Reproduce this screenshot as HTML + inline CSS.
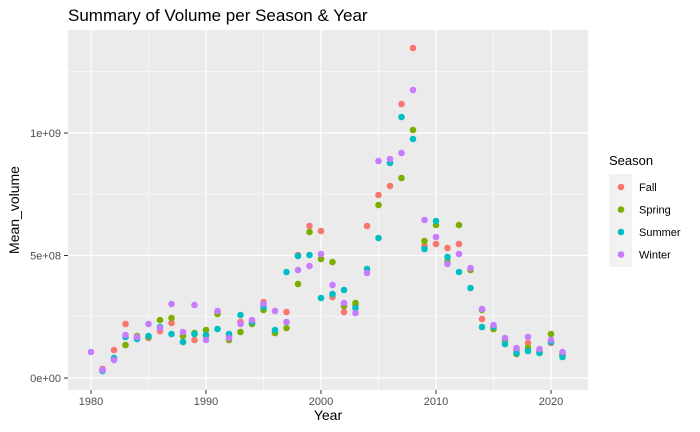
<!DOCTYPE html>
<html><head><style>body{margin:0;background:#fff}svg{display:block;font-family:"Liberation Sans",sans-serif}</style></head><body>
<svg width="700" height="432" xmlns="http://www.w3.org/2000/svg">
<rect width="700" height="432" fill="#fff"/>
<text x="68" y="21" font-size="17" fill="#000">Summary of Volume per Season &amp; Year</text>
<rect x="68" y="30" width="520" height="360" fill="#EBEBEB"/>
<g stroke="#fff" stroke-width="0.6">
<line x1="68" x2="588" y1="316.5" y2="316.5"/><line x1="68" x2="588" y1="194" y2="194"/><line x1="68" x2="588" y1="71.5" y2="71.5"/>
<line y1="30" y2="390" x1="148.5" x2="148.5"/><line y1="30" y2="390" x1="263.5" x2="263.5"/><line y1="30" y2="390" x1="378.5" x2="378.5"/><line y1="30" y2="390" x1="493.5" x2="493.5"/>
</g>
<g stroke="#fff" stroke-width="1.2">
<line x1="68" x2="588" y1="378" y2="378"/><line x1="68" x2="588" y1="255.5" y2="255.5"/><line x1="68" x2="588" y1="133" y2="133"/>
<line y1="30" y2="390" x1="91" x2="91"/><line y1="30" y2="390" x1="206" x2="206"/><line y1="30" y2="390" x1="321" x2="321"/><line y1="30" y2="390" x1="436" x2="436"/><line y1="30" y2="390" x1="551" x2="551"/>
</g>
<g stroke="#333" stroke-width="1">
<line x1="64" x2="68" y1="378" y2="378"/><line x1="64" x2="68" y1="255.5" y2="255.5"/><line x1="64" x2="68" y1="133" y2="133"/>
<line y1="390" y2="394" x1="91" x2="91"/><line y1="390" y2="394" x1="206" x2="206"/><line y1="390" y2="394" x1="321" x2="321"/><line y1="390" y2="394" x1="436" x2="436"/><line y1="390" y2="394" x1="551" x2="551"/>
</g>
<g font-size="11" fill="#4D4D4D" text-anchor="end">
<text x="61" y="382">0e+00</text><text x="61" y="259.5">5e+08</text><text x="61" y="137">1e+09</text>
</g>
<g font-size="11" fill="#4D4D4D" text-anchor="middle">
<text x="91" y="405">1980</text><text x="206" y="405">1990</text><text x="321" y="405">2000</text><text x="436" y="405">2010</text><text x="551" y="405">2020</text>
</g>
<text x="328" y="420" font-size="14" text-anchor="middle">Year</text>
<text transform="translate(19,210) rotate(-90)" font-size="14" text-anchor="middle">Mean_volume</text>
<g id="pts"></g>
<text x="609" y="165" font-size="13">Season</text>
<rect x="609" y="174" width="23" height="93" fill="#F2F2F2"/>
<circle cx="621" cy="187" r="3.3" fill="#F8766D"/><circle cx="621" cy="209.5" r="3.3" fill="#7CAE00"/><circle cx="621" cy="232" r="3.3" fill="#00BFC4"/><circle cx="621" cy="254.5" r="3.3" fill="#C77CFF"/>
<g font-size="11" fill="#000"><text x="639" y="191">Fall</text><text x="639" y="213.5">Spring</text><text x="639" y="236">Summer</text><text x="639" y="258.5">Winter</text></g>
</svg>
<script>
var C={F:"#F8766D",S:"#7CAE00",U:"#00BFC4",W:"#C77CFF"};
var d={1980:{W:352},1981:{F:369,S:370,U:371,W:370},1982:{F:350,S:359,U:358,W:360},1983:{F:324,S:345,U:337,W:335},
1984:{F:338,S:336,U:339,W:337},1985:{F:338,S:337,U:336,W:324},1986:{F:331,S:320,U:327,W:328},1987:{F:323,S:318,U:334,W:304},
1988:{F:342,S:336,U:342,W:332},1989:{F:340,S:333,U:334,W:305},1990:{F:336,S:330,U:335,W:340},1991:{F:312,S:314,U:329,W:311},
1992:{F:336,S:340,U:334,W:338},1993:{F:322,S:332,U:315,W:324},1994:{F:323,S:324,U:322,W:320},1995:{F:302,S:310,U:307,W:304},
1996:{F:333,S:333,U:330,W:311},1997:{F:312,S:328,U:272,W:322},1998:{F:255,S:284,U:256,W:270},1999:{F:226,S:232,U:255,W:266},
2000:{F:231,S:259,U:298,W:254},2001:{F:297,S:262,U:294,W:285},2002:{F:312,S:306,U:290,W:303},2003:{F:305,S:303,U:308,W:313},
2004:{F:226,U:269,W:273},2005:{F:195,S:205,U:238,W:161},2006:{F:186,U:163,W:159},2007:{F:104,S:178,U:117,W:153},
2008:{F:48,S:130,U:139,W:90},2009:{F:246,S:241,U:249,W:220},2010:{F:244,S:225,U:221,W:237},2011:{F:248,S:262,U:257,W:264},
2012:{F:244,S:225,U:272,W:254},2013:{S:270,U:288,W:268},2014:{F:319,S:310,U:327,W:309},2015:{S:329,U:327,W:325},
2016:{S:340,U:344,W:338},2017:{F:350,S:354,U:353,W:348},2018:{F:343,S:348,U:351,W:337},2019:{F:351,S:352,U:353,W:349},
2020:{F:343,S:334,U:342,W:340},2021:{F:354,S:355,U:357,W:352}};
var g=document.getElementById("pts"),s="";
for(var y in d){var x=91+(y-1980)*11.5;["F","S","U","W"].forEach(function(k){if(d[y][k]!=null)s+='<circle cx="'+x+'" cy="'+d[y][k]+'" r="3.3" fill="'+C[k]+'"/>';});}
g.innerHTML=s;
</script>
</body></html>
